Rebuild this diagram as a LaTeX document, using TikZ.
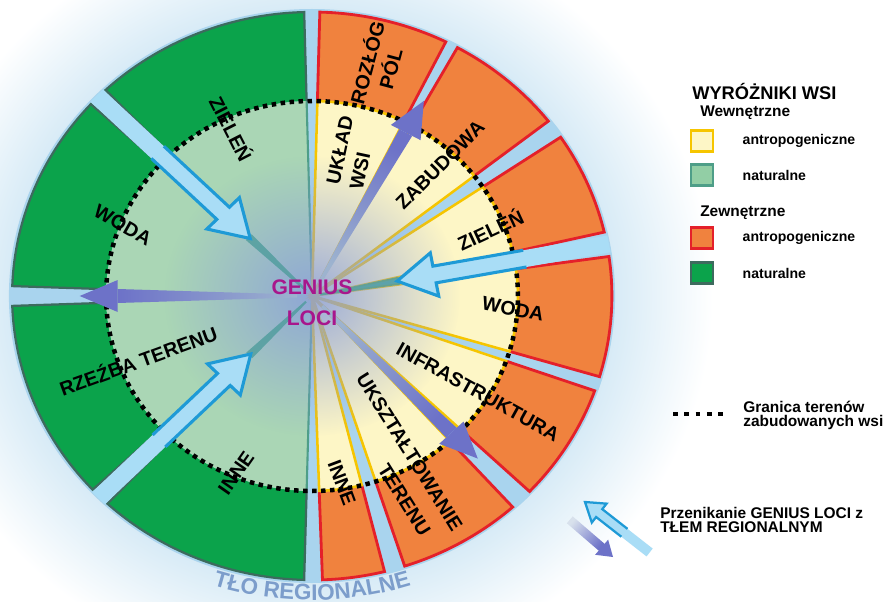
\documentclass[tikz,border=0pt]{standalone}
\usepackage{fontspec}
\setmainfont{Liberation Sans}
\usepackage{xcolor}
\usepackage{tikz}
\usetikzlibrary{positioning, decorations.text, fadings}

\definecolor{gapblue}{HTML}{A9D4EE}
\definecolor{glowblue}{HTML}{D2E8F5}
\definecolor{darkgreen}{HTML}{0BA34B}
\definecolor{greenline}{HTML}{3D6B5E}
\definecolor{lightgreen}{HTML}{AAD6B5}
\definecolor{lightgreenline}{HTML}{4E9E88}
\definecolor{orangefill}{HTML}{F0823E}
\definecolor{redline}{HTML}{E4202A}
\definecolor{yellowfill}{HTML}{FDF6C6}
\definecolor{yellowline}{HTML}{F6C500}
\definecolor{arrowfill}{HTML}{A9DDF6}
\definecolor{arrowline}{HTML}{1E9AD6}
\definecolor{purplehead}{HTML}{6D72C8}
\definecolor{purpletail}{HTML}{9DB3CF}
\definecolor{centerglow}{HTML}{8A9EDB}
\definecolor{raycolor}{HTML}{4E9C9C}
\definecolor{geniuscolor}{HTML}{A8168C}
\definecolor{tlocolor}{HTML}{7C9DCB}

\pgfdeclareradialshading{haloshade}{\pgfpoint{0bp}{0bp}}{color(0bp)=(glowblue); color(18bp)=(glowblue); color(25bp)=(white); color(50bp)=(white)}
\tikzfading[name=centerfade, inner color=transparent!15, outer color=transparent!100]

\begin{document}
\begin{tikzpicture}[
    x=0.025cm, y=0.025cm,
    lbl/.style={font=\bfseries\fontsize{14}{17}\selectfont, inner sep=0pt, align=center},
    genius/.style={font=\bfseries\fontsize{15}{22}\selectfont, text=geniuscolor, inner sep=0pt, align=center},
    legtitle/.style={font=\bfseries\fontsize{13}{13}\selectfont, inner sep=0pt, anchor=west},
    leggroup/.style={font=\bfseries\fontsize{11}{11}\selectfont, inner sep=0pt, anchor=west},
    legtext/.style={font=\bfseries\fontsize{10}{10}\selectfont, inner sep=0pt, anchor=west},
    legnote/.style={font=\bfseries\fontsize{11}{10}\selectfont, inner sep=0pt, anchor=west, align=left},
    legbox/.style={minimum width=0.55cm, minimum height=0.52cm, line width=2pt, inner sep=0pt},
    greenseg/.style={draw=greenline, line width=1.6pt},
    orangeseg/.style={draw=redline, line width=2pt},
    granica/.style={line width=3.2pt, dash pattern=on 3.2pt off 3.2pt},
    inarrow/.style={draw=arrowline, line width=2.2pt, line join=miter}
]
\useasboundingbox (0,0) rectangle (887,601);
\fill[white] (0,0) rectangle (887,601);

% Halo (tlo regionalne)
\shade[shading=haloshade] (312,305) ellipse [x radius=401, y radius=380];

\begin{scope}[shift={(312,305)}, xscale=1.056]
% Base of the disc
\fill[gapblue] (0,0) circle (287);

% Outer ring: natural
\foreach \a/\b in {91.5/133.5, 137.5/178, 182/223, 227/268.5} {
  \fill[darkgreen] (\a:195) -- (\a:284) arc[start angle=\a, end angle=\b, radius=284] -- (\b:195) arc[start angle=\b, end angle=\a, radius=195] -- cycle;
  \draw[greenseg] (\a:195) -- (\a:284) arc[start angle=\a, end angle=\b, radius=284] -- (\b:195);
}

% Outer ring: anthropogenic
\foreach \a/\b in {63.5/88.5, 38/61, 13/34, -16.5/8, -43.5/-19.5, -72/-48, -88/-76} {
  \fill[orangefill] (\a:195) -- (\a:284) arc[start angle=\a, end angle=\b, radius=284] -- (\b:195) arc[start angle=\b, end angle=\a, radius=195] -- cycle;
  \draw[orangeseg] (\a:195) -- (\a:284) arc[start angle=\a, end angle=\b, radius=284] -- (\b:195);
}

% Inner part
\fill[lightgreen] (0,0) -- (91.5:195) arc[start angle=91.5, end angle=268.5, radius=195] -- cycle;
\draw[lightgreenline, line width=1.5pt] (91.5:195) -- (0,0) -- (268.5:195);
\foreach \a/\b in {63.5/88.5, 38/61, 13/34, -16.5/8, -43.5/-19.5, -72/-48, -88/-76} {
  \filldraw[fill=yellowfill, draw=yellowline, line width=1.8pt] (0,0) -- (\a:195) arc[start angle=\a, end angle=\b, radius=195] -- cycle;
}

% Genius loci glow
\fill[centerglow, path fading=centerfade] (0,0) circle (140);
\foreach \a in {135.5, 225, 10.5}
  \fill[raycolor, opacity=0.8, rotate=\a] (84,-4) -- (84,4) -- (8,1) -- (8,-1) -- cycle;

% Border of the built-up area
\draw[granica] (0,0) circle (195);

% Arrows: inward
\foreach \a in {135.5, 225, 10.5} {
  \begin{scope}[rotate=\a]
    \fill[arrowfill] (286,-8.5) -- (118,-8.5) -- (118,-22) -- (82,0) -- (118,22) -- (118,8.5) -- (286,8.5) -- cycle;
    \draw[inarrow] (205,-8.5) -- (118,-8.5) -- (118,-22) -- (82,0) -- (118,22) -- (118,8.5) -- (205,8.5);
  \end{scope}
}

% Arrows: outward
\foreach \a/\tip/\sh in {180/220/270, 61.5/222/151.5, -46/226/44} {
  \begin{scope}[rotate=\a]
    \shade[left color=purpletail, right color=purplehead, shading angle=\sh] (14,-1.5) -- (\tip-36,-7) -- (\tip-36,7) -- (14,1.5) -- cycle;
    \fill[purplehead] (\tip-36,-16) -- (\tip,0) -- (\tip-36,16) -- cycle;
  \end{scope}
}

% Labels
\node[lbl, rotate=-63] (zielenL) at (114.3:184) {ZIELEŃ};
\node[lbl, rotate=-29.5] (wodaL) at (158.4:192.6) {WODA};
\node[lbl, rotate=20] (rzezba) at (201.2:176.8) {RZEŹBA TERENU};
\node[lbl, rotate=55] (inneL) at (247.9:191) {INNE};
\node[lbl, rotate=75] (rozlog) at (74.9:239) {ROZŁÓG\\PÓL};
\node[lbl, rotate=78, align=left] (uklad) at (75.3:148) {UKŁAD\\WSI};
\node[lbl, rotate=45] (zabudowa) at (47.2:178.5) {ZABUDOWA};
\node[lbl, rotate=25] (zielenR) at (21.7:181.4) {ZIELEŃ};
\node[lbl, rotate=-11] (wodaR) at (-3.9:190.8) {WODA};
\node[lbl, rotate=-29] (infra) at (-31.4:184.2) {INFRASTRUKTURA};
\node[lbl, rotate=-58] (uksztalt) at (-59.3:181) {UKSZTAŁTOWANIE};
\node[lbl, rotate=-58] (terenu) at (-66.8:222) {TERENU};
\node[lbl, rotate=-69.5] (inneR) at (-81.4:189) {INNE};
\end{scope}

\node[genius] (genius) at (312,298) {GENIUS\\LOCI};

% Curved caption
\path[decorate, decoration={text along path, text align=center, text color=tlocolor,
    text={|\bfseries\fontsize{16}{16}\selectfont|TŁO REGIONALNE}}]
  (312,305) ++(245:322 and 304) arc[start angle=245, end angle=295, x radius=322, y radius=304];

% Legend
\node[legtitle] (title) at (692,510) {WYRÓŻNIKI WSI};
\node[leggroup] (wewn) at (700,488) {Wewnętrzne};
\node[legbox, fill=yellowfill, draw=yellowline] (boxA) at (702,460) {};
\node[legbox, fill=lightgreen!85!darkgreen, draw=lightgreenline] (boxB) at (702,426) {};
\node[legtext, right=0.7cm of boxA] (txtA) {antropogeniczne};
\node[legtext, right=0.7cm of boxB] (txtB) {naturalne};
\node[leggroup] (zewn) at (700,388) {Zewnętrzne};
\node[legbox, fill=orangefill, draw=redline] (boxC) at (702,363) {};
\node[legbox, fill=darkgreen, draw=greenline] (boxD) at (702,328) {};
\node[legtext, right=0.7cm of boxC] (txtC) {antropogeniczne};
\node[legtext, right=0.7cm of boxD] (txtD) {naturalne};

\coordinate (granicaL) at (673,187);
\coordinate (granicaR) at (723,187);
\draw[line width=3.4pt, dash pattern=on 3.4pt off 4.6pt] (granicaL) -- (granicaR);
\node[legnote] (granica) at (743,186) {Granica terenów\\zabudowanych wsi};

\begin{scope}[shift={(585,99)}, rotate=-38]
  \fill[arrowfill] (0,0) -- (18,-12) -- (18,-5) -- (82,-5) -- (82,5) -- (18,5) -- (18,12) -- cycle;
  \draw[arrowline, line width=1.6pt, line join=miter] (50,-5) -- (18,-5) -- (18,-12) -- (0,0) -- (18,12) -- (18,5) -- (50,5);
\end{scope}
\begin{scope}[shift={(613,44)}, rotate=139.3]
  \shade[left color=purplehead, right color=purpletail!40, shading angle=229.3] (14,-4.5) -- (57,-4.5) -- (57,4.5) -- (14,4.5) -- cycle;
  \fill[purplehead] (0,0) -- (15,-10) -- (15,10) -- cycle;
\end{scope}
\node[legnote] (przenik) at (660,81) {Przenikanie GENIUS LOCI z\\TŁEM REGIONALNYM};
\end{tikzpicture}
\end{document}
